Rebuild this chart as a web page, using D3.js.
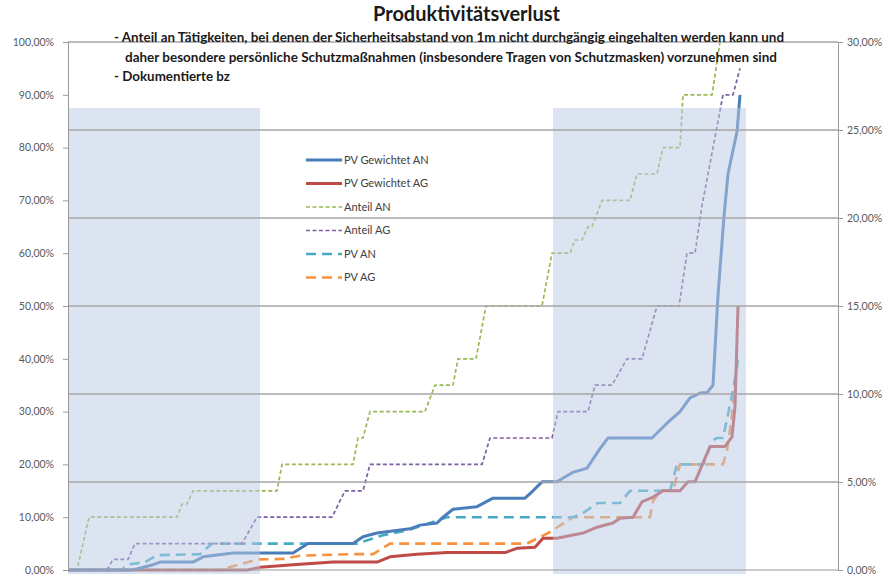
<!DOCTYPE html>
<html>
    <head>
        <meta charset="utf-8">
        <style>
         body {
             margin: 0;
             background-color: #ffffff;
         }
         svg text {
             font-family: Lato, "Open Sans", sans-serif;
         }
         .tick-label {
             font-size: 10.5px;
             fill: #595959;
         }
         .legend-label {
             font-size: 11px;
             fill: #404040;
         }
         .note {
             font-size: 12.5px;
             font-weight: bold;
             fill: #1a1a1a;
         }
        </style>
        <script src="https://d3js.org/d3.v7.min.js"></script>
    </head>
    <body>
        <svg id="chart" width="885" height="575"></svg>
        <script>
         // x = Rang der Tätigkeit (sortiert), y = Anteil in Prozent (linke Achse)
         var pvGewichtetAN = [[0,0],[13,0],[17,1],[18.4,1.5],[25,1.5],[27,2.5],[33,3.2],[45,3.2],[48,5],[57,5],[59,6.3],[61.8,7],[68.4,7.8],[70.4,8.5],[73.8,8.9],[75,10],[77,11.5],[81.8,12],[85,13.6],[91.4,13.6],[93,15],[94.8,16.7],[97.8,16.7],[101,18.5],[103.8,19.3],[106.4,23],[108,25],[116.8,25],[119.8,27.8],[122.4,30],[124.4,32.6],[126.4,33.5],[127.8,33.6],[129,35],[130,52],[131.2,67],[132,75],[133,79.5],[133.8,83],[134.4,90]];
         var pvGewichtetAG = [[0,0],[35.8,0],[38.4,0.5],[45,1],[53,1.5],[61.8,1.5],[64.4,2.5],[69.8,3],[75.8,3.3],[87.4,3.3],[89.8,4.1],[93.4,4.3],[95,6],[97.8,6],[103,7],[105.8,8.1],[109,8.9],[110.4,9.8],[113,10],[114.8,12.9],[117,13.8],[119,15],[122.4,15],[124,16.7],[125.4,16.7],[128.4,23.4],[131.4,23.4],[132.8,25.2],[133.4,31],[134,50]];
         var anteilAN = [[0,0],[1.8,0],[4.2,10],[21.8,10],[22.8,12.5],[23.8,12.5],[25,15],[41.8,15],[42.8,20],[57,20],[58,25],[59,25],[60.4,30],[71.4,30],[73.4,35],[77,35],[78,40],[81.6,40],[83.6,50],[94.8,50],[96.8,60],[100.4,60],[101.4,62.5],[102.8,62.5],[104,65],[104.8,65],[106.8,70],[112.4,70],[113.8,75],[117.8,75],[119,80],[122.4,80],[123,90],[128.8,90],[130.4,100],[134,100]];
         var anteilAG = [[0,0],[7.8,0],[9,2],[12,2],[13.4,5],[34.8,5],[37.8,10],[52.8,10],[55.4,15],[59,15],[60.4,20],[82.8,20],[84.4,25],[96.8,25],[98,30],[104,30],[105.4,35],[108.8,35],[111.8,40],[114.8,40],[117.8,50],[122.2,50],[123.8,60],[125.4,60],[126.8,69],[128.8,79],[131,90],[133,90],[134.4,95]];
         var pvAN = [[0,0],[10.8,0],[11.8,1],[15.4,1.5],[17.8,2.8],[26.4,3],[28.8,5],[57.8,5],[63,6.6],[67.8,7.5],[72.4,8.9],[75.8,10],[101,10],[103,10.8],[106,12.7],[110.4,12.7],[112.4,15],[120.4,15],[121.8,20],[127,20],[129,24.6],[129.8,25],[131,25],[133,34],[134,39.7]];
         var pvAG = [[0,0],[30.4,0],[37.8,2],[43,2.1],[46.4,2.7],[56.4,3],[61,3],[64.4,5],[91.8,5],[96.4,7.2],[101,10],[116.4,10],[117,13],[118.4,15],[121,15],[122.4,20],[131,20],[131.8,22.7],[132.4,26.5],[133,31],[133.8,40]];

         // hinterlegte Bereiche: von, bis (Rang), Höhe (%)
         var bereiche = [[0, 38.4, 87.5], [97, 135.6, 87.5]];

         var linkeTicks = [0, 10, 20, 30, 40, 50, 60, 70, 80, 90, 100];
         var rechteTicks = [0, 5, 10, 15, 20, 25, 30];

         var reihenNamen = ["PV Gewichtet AN", "PV Gewichtet AG", "Anteil AN", "Anteil AG", "PV AN", "PV AG"];

         var titel = "Produktivitätsverlust";
         var hinweise = [
             "- Anteil an Tätigkeiten, bei denen der Sicherheitsabstand von 1m nicht durchgängig eingehalten werden kann und",
             "daher besondere persönliche Schutzmaßnahmen (insbesondere Tragen von Schutzmasken) vorzunehmen sind",
             "- Dokumentierte bz"
         ];

         var reihen = [
             {name: reihenNamen[0], data: pvGewichtetAN, color: "#4a7ebb", width: 3, dash: null},
             {name: reihenNamen[1], data: pvGewichtetAG, color: "#be4b48", width: 3, dash: null},
             {name: reihenNamen[2], data: anteilAN, color: "#98b954", width: 1.7, dash: "4,2.5"},
             {name: reihenNamen[3], data: anteilAG, color: "#7d60a0", width: 1.7, dash: "4,2.5"},
             {name: reihenNamen[4], data: pvAN, color: "#46aac5", width: 2.6, dash: "10,6"},
             {name: reihenNamen[5], data: pvAG, color: "#f69240", width: 2.6, dash: "10,6"}
         ];

         var svg = d3.select("#chart");
         var plotLeft = 68, plotRight = 838, plotTop = 42, plotBottom = 570;

         var x = d3.scaleLinear().domain([0, 154]).range([plotLeft, plotRight]);
         var yL = d3.scaleLinear().domain([0, 100]).range([plotBottom, plotTop]);
         var yR = d3.scaleLinear().domain([0, 30]).range([plotBottom, plotTop]);

         var de = d3.formatLocale({decimal: ",", thousands: ".", grouping: [3], currency: ["", " €"]});
         var fmt = function(v) { return de.format(".2f")(v) + "%"; };

         // Linien
         var line = d3.line()
                      .x(function(d) { return x(d[0]); })
                      .y(function(d) { return yL(d[1]); });

         svg.append("g").selectAll("path")
            .data(reihen.slice().reverse())
            .enter().append("path")
            .attr("d", function(d) { return line(d.data); })
            .attr("fill", "none")
            .attr("stroke", function(d) { return d.color; })
            .attr("stroke-width", function(d) { return d.width; })
            .attr("stroke-dasharray", function(d) { return d.dash; })
            .attr("stroke-linejoin", "round");

         // hinterlegte Bereiche liegen halbtransparent über den Linien
         svg.append("g").selectAll("rect")
            .data(bereiche)
            .enter().append("rect")
            .attr("x", function(d) { return x(d[0]); })
            .attr("y", function(d) { return yL(d[2]); })
            .attr("width", function(d) { return x(d[1]) - x(d[0]); })
            .attr("height", function(d) { return plotBottom + 4 - yL(d[2]); })
            .attr("fill", "rgb(185,201,227)")
            .attr("fill-opacity", 0.5);

         // Gitternetz der rechten Achse
         svg.append("g").selectAll("line")
            .data(rechteTicks.filter(function(d) { return d > 0; }))
            .enter().append("line")
            .attr("x1", plotLeft).attr("x2", plotRight)
            .attr("y1", function(d) { return yR(d); })
            .attr("y2", function(d) { return yR(d); })
            .attr("stroke", "#a6a6a6")
            .attr("stroke-width", 1.5);

         // linke Achse
         var axL = svg.append("g")
                      .attr("transform", "translate(" + plotLeft + ",0)")
                      .call(d3.axisLeft(yL).tickValues(linkeTicks).tickFormat(fmt).tickSize(5).tickPadding(9));
         axL.select(".domain").attr("stroke", "#9a9a9a");
         axL.selectAll(".tick line").attr("stroke", "#9a9a9a");
         axL.selectAll(".tick text").attr("class", "tick-label");
         axL.attr("font-family", null).attr("font-size", null);

         // rechte Achse
         var axR = svg.append("g")
                      .attr("transform", "translate(" + plotRight + ",0)")
                      .call(d3.axisRight(yR).tickValues(rechteTicks).tickFormat(fmt).tickSize(5).tickPadding(4));
         axR.select(".domain").attr("stroke", "#9a9a9a");
         axR.selectAll(".tick line").attr("stroke", "#9a9a9a");
         axR.selectAll(".tick text").attr("class", "tick-label");
         axR.attr("font-family", null).attr("font-size", null);

         // x-Achse ohne Beschriftung
         svg.append("line")
            .attr("x1", plotLeft).attr("x2", plotRight)
            .attr("y1", plotBottom).attr("y2", plotBottom)
            .attr("stroke", "#9a9a9a");

         // Legende
         var leg = svg.append("g").selectAll("g")
                      .data(reihen)
                      .enter().append("g")
                      .attr("transform", function(d, i) { return "translate(306," + (160 + i * 23.5) + ")"; });
         leg.append("line")
            .attr("x1", 0).attr("x2", 36)
            .attr("stroke", function(d) { return d.color; })
            .attr("stroke-width", function(d) { return d.width; })
            .attr("stroke-dasharray", function(d) { return d.dash; });
         leg.append("text")
            .attr("class", "legend-label")
            .attr("x", 38)
            .attr("dy", "0.35em")
            .text(function(d) { return d.name; });

         // Titel und Hinweise
         svg.append("text")
            .attr("x", 373).attr("y", 21)
            .attr("font-size", 20).attr("font-weight", "bold").attr("fill", "#1a1a1a")
            .attr("textLength", 187).attr("lengthAdjust", "spacingAndGlyphs")
            .text(titel);

         var noteX = [114, 125, 114], noteW = [670, 652, 116];
         svg.append("g").selectAll("text")
            .data(hinweise)
            .enter().append("text")
            .attr("class", "note")
            .attr("x", function(d, i) { return noteX[i]; })
            .attr("y", function(d, i) { return 42 + i * 19.5; })
            .attr("textLength", function(d, i) { return noteW[i]; })
            .attr("lengthAdjust", "spacingAndGlyphs")
            .text(function(d) { return d; });
        </script>
    </body>
</html>
